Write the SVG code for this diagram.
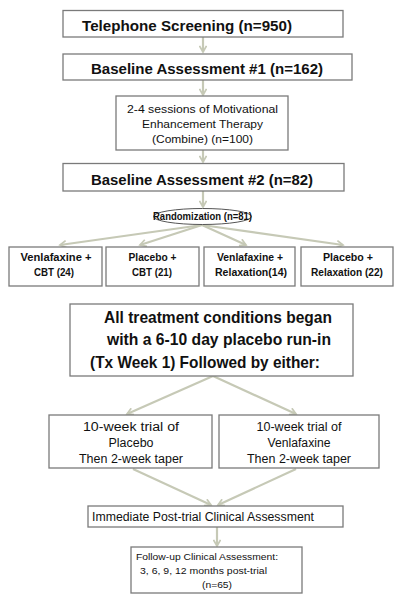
<svg xmlns="http://www.w3.org/2000/svg" width="409" height="600" viewBox="0 0 409 600">
<defs>
<style>
.box{fill:#fff;stroke:#7a7a7a;stroke-width:1.3}
.t{font-family:"Liberation Sans",Arial,sans-serif;fill:#111}
.b{font-weight:bold}
.c{stroke:#c6c9b6;stroke-width:2.2;fill:none;marker-end:url(#ah)}
</style>
<marker id="ah" viewBox="0 0 10 10" refX="8" refY="5" markerWidth="4" markerHeight="4" orient="auto" markerUnits="strokeWidth">
<path d="M1,1 L8,5 L1,9" fill="none" stroke="#c6c9b6" stroke-width="2"/>
</marker>
</defs>
<rect width="409" height="600" fill="#fff"/>
<g id="connectors">
<line class="c" x1="203" y1="37" x2="203" y2="52"/>
<line class="c" x1="203" y1="80" x2="203" y2="95"/>
<line class="c" x1="203" y1="150" x2="203" y2="162"/>
<line class="c" x1="203" y1="191" x2="203" y2="207"/>
<line class="c" x1="202" y1="225" x2="60" y2="245"/>
<line class="c" x1="202" y1="225" x2="140" y2="245"/>
<line class="c" x1="202" y1="225" x2="246" y2="245"/>
<line class="c" x1="202" y1="225" x2="343" y2="245"/>
<line class="c" x1="213" y1="376" x2="127" y2="414"/>
<line class="c" x1="213" y1="376" x2="296" y2="414"/>
<line class="c" x1="133" y1="469" x2="211" y2="505"/>
<line class="c" x1="296" y1="469" x2="218" y2="505"/>
<line class="c" x1="217" y1="527" x2="217" y2="546"/>
</g>
<g id="n1">
<rect class="box" x="63" y="10.5" width="280" height="26.5"/>
<text class="t b" x="82" y="31" font-size="15" textLength="210" lengthAdjust="spacingAndGlyphs">Telephone Screening (n=950)</text>
</g>
<g id="n2">
<rect class="box" x="63" y="54" width="289" height="26"/>
<text class="t b" x="91" y="74" font-size="15" textLength="232" lengthAdjust="spacingAndGlyphs">Baseline Assessment #1 (n=162)</text>
</g>
<g id="n3">
<rect class="box" x="116" y="96" width="172" height="54"/>
<text class="t" x="127" y="113" font-size="11" textLength="151" lengthAdjust="spacingAndGlyphs">2-4 sessions of Motivational</text>
<text class="t" x="142" y="128" font-size="11" textLength="121" lengthAdjust="spacingAndGlyphs">Enhancement Therapy</text>
<text class="t" x="152" y="143" font-size="11" textLength="101" lengthAdjust="spacingAndGlyphs">(Combine) (n=100)</text>
</g>
<g id="n4">
<rect class="box" x="63" y="163.5" width="281" height="27.5"/>
<text class="t b" x="91" y="185" font-size="15" textLength="222" lengthAdjust="spacingAndGlyphs">Baseline Assessment #2 (n=82)</text>
</g>
<g id="n5">
<ellipse cx="202.5" cy="216.5" rx="49" ry="8" fill="#fff" stroke="#555" stroke-width="1"/>
<text class="t b" x="153" y="220" font-size="10" textLength="99" lengthAdjust="spacingAndGlyphs">Randomization (n=81)</text>
</g>
<g id="n6">
<rect class="box" x="9" y="247" width="93" height="39"/>
<text class="t b" x="56" y="261" font-size="10.5" text-anchor="middle" textLength="71" lengthAdjust="spacingAndGlyphs">Venlafaxine +</text>
<text class="t b" x="54" y="276" font-size="10.5" text-anchor="middle" textLength="40" lengthAdjust="spacingAndGlyphs">CBT (24)</text>
</g>
<g id="n7">
<rect class="box" x="106" y="247" width="93" height="39"/>
<text class="t b" x="152.5" y="261" font-size="10.5" text-anchor="middle" textLength="48" lengthAdjust="spacingAndGlyphs">Placebo +</text>
<text class="t b" x="152" y="276" font-size="10.5" text-anchor="middle" textLength="40" lengthAdjust="spacingAndGlyphs">CBT (21)</text>
</g>
<g id="n8">
<rect class="box" x="204" y="247" width="91" height="39"/>
<text class="t b" x="250" y="261" font-size="10.5" text-anchor="middle" textLength="66" lengthAdjust="spacingAndGlyphs">Venlafaxine +</text>
<text class="t b" x="251" y="276" font-size="10.5" text-anchor="middle" textLength="72" lengthAdjust="spacingAndGlyphs">Relaxation(14)</text>
</g>
<g id="n9">
<rect class="box" x="301" y="247" width="92" height="39"/>
<text class="t b" x="348" y="261" font-size="10.5" text-anchor="middle" textLength="50" lengthAdjust="spacingAndGlyphs">Placebo +</text>
<text class="t b" x="347" y="276" font-size="10.5" text-anchor="middle" textLength="72" lengthAdjust="spacingAndGlyphs">Relaxation (22)</text>
</g>
<g id="n10">
<rect class="box" x="70" y="304" width="283" height="72"/>
<text class="t b" x="104" y="323" font-size="17" textLength="228" lengthAdjust="spacingAndGlyphs">All treatment conditions began</text>
<text class="t b" x="107" y="345" font-size="17" textLength="224" lengthAdjust="spacingAndGlyphs">with a 6-10 day placebo run-in</text>
<text class="t b" x="90" y="368" font-size="17" textLength="230" lengthAdjust="spacingAndGlyphs">(Tx Week 1) Followed by either:</text>
</g>
<g id="n11">
<rect class="box" x="49" y="415" width="163" height="53"/>
<text class="t" x="131" y="431" font-size="12" text-anchor="middle" textLength="96" lengthAdjust="spacingAndGlyphs">10-week trial of</text>
<text class="t" x="131" y="447" font-size="12" text-anchor="middle" textLength="45" lengthAdjust="spacingAndGlyphs">Placebo</text>
<text class="t" x="131" y="463" font-size="12" text-anchor="middle" textLength="104" lengthAdjust="spacingAndGlyphs">Then 2-week taper</text>
</g>
<g id="n12">
<rect class="box" x="219" y="415" width="160" height="53"/>
<text class="t" x="299" y="431" font-size="12" text-anchor="middle" textLength="85" lengthAdjust="spacingAndGlyphs">10-week trial of</text>
<text class="t" x="299" y="447" font-size="12" text-anchor="middle" textLength="63" lengthAdjust="spacingAndGlyphs">Venlafaxine</text>
<text class="t" x="299" y="463" font-size="12" text-anchor="middle" textLength="104" lengthAdjust="spacingAndGlyphs">Then 2-week taper</text>
</g>
<g id="n13">
<rect class="box" x="88" y="506" width="255" height="21"/>
<text class="t" x="92" y="521" font-size="12.5" textLength="222" lengthAdjust="spacingAndGlyphs">Immediate Post-trial Clinical Assessment</text>
</g>
<g id="n14">
<rect class="box" x="131" y="547" width="171" height="46"/>
<text class="t" x="136" y="560" font-size="9" textLength="142" lengthAdjust="spacingAndGlyphs">Follow-up Clinical Assessment:</text>
<text class="t" x="140" y="574" font-size="9" textLength="127" lengthAdjust="spacingAndGlyphs">3, 6, 9, 12 months post-trial</text>
<text class="t" x="202" y="588" font-size="9" textLength="30" lengthAdjust="spacingAndGlyphs">(n=65)</text>
</g>
</svg>
